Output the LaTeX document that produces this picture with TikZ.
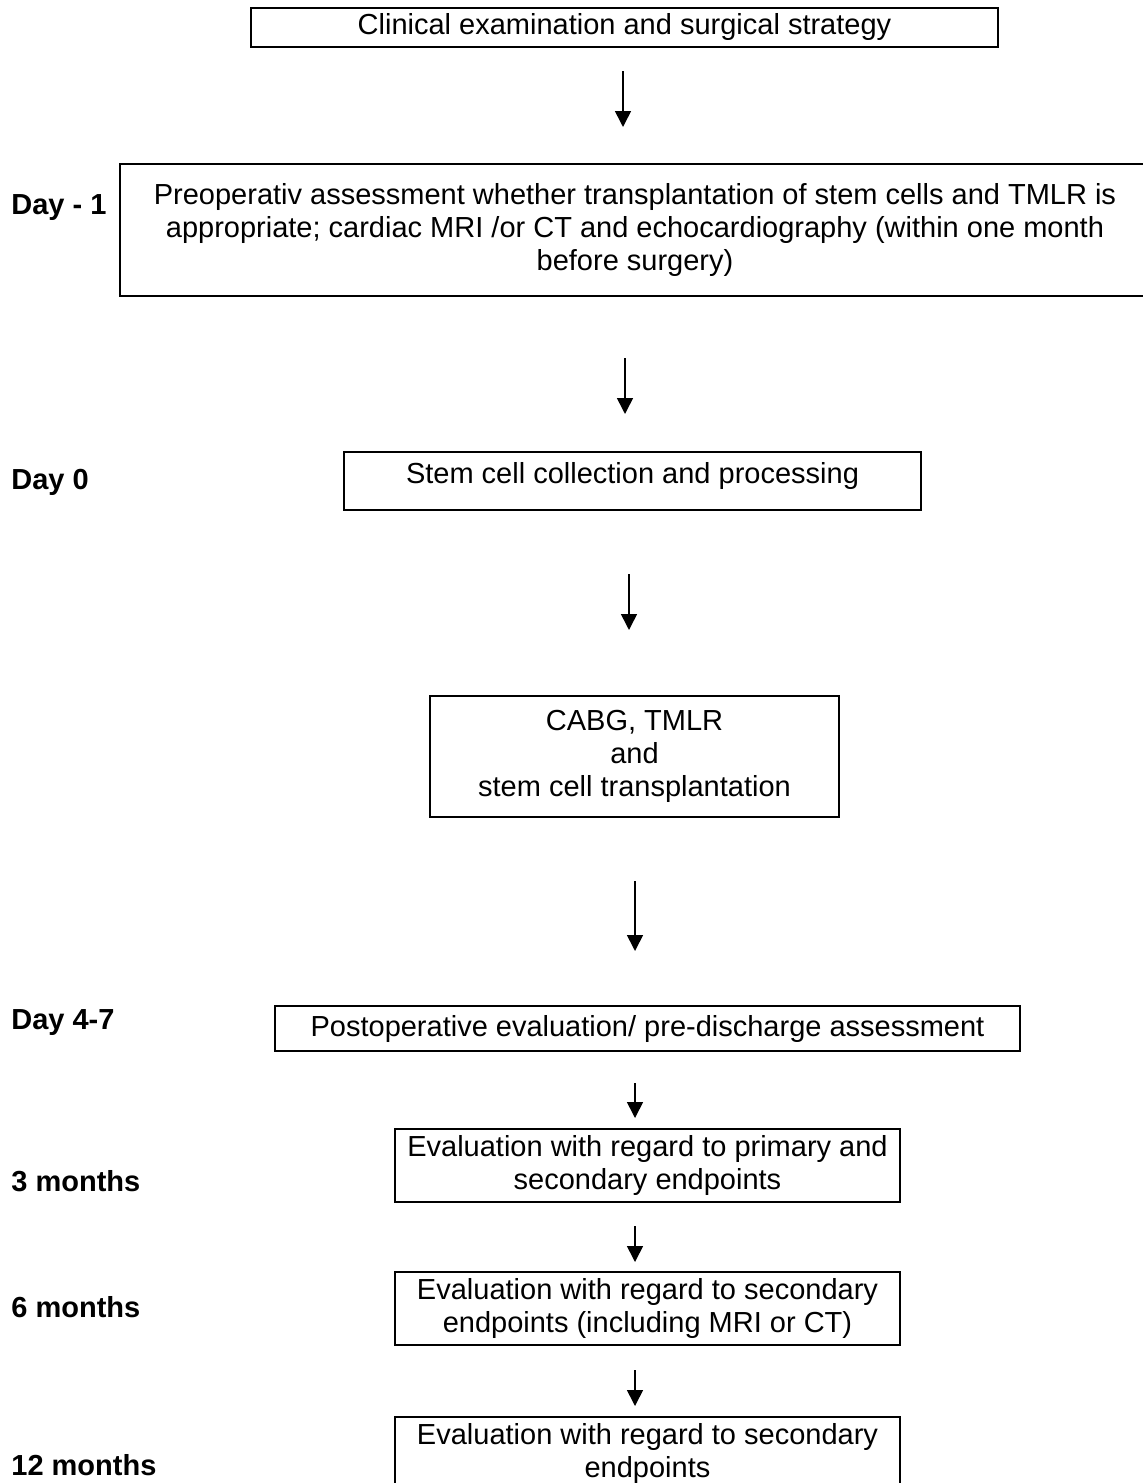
\documentclass[tikz,border=0pt]{standalone}
\usepackage{fontspec}
\setmainfont{Liberation Sans}
\usetikzlibrary{arrows.meta,calc}
\tikzset{
  phase/.style={draw=black, line width=1pt, inner sep=0pt, align=center,
    font=\fontsize{14.5}{16.5}\selectfont},
  period/.style={anchor=west, inner sep=0pt, font=\fontsize{14.5}{16.5}\selectfont\bfseries},
  flow/.style={draw=black, line width=0.8pt, -{Triangle[length=8pt,width=8pt]}},
}

\begin{document}
\begin{tikzpicture}[x=0.5pt, y=-0.5pt]
\useasboundingbox (0,0) rectangle (1142,1483);
% Steps of the study
\node[phase, minimum width=373.5pt, minimum height=19.5pt] (exam) at (624.5,27.5)
  {Clinical examination and surgical strategy};
\node[phase, minimum width=515pt, minimum height=66pt] (preop) at (635,230)
  {Preoperativ assessment whether transplantation of stem cells and TMLR is\\
   appropriate; cardiac MRI /or CT and echocardiography (within one month\\
   before surgery)};
\node[phase, minimum width=288.5pt, minimum height=29pt, text height=15.5pt, text depth=13.5pt]
  (collect) at (632.5,481) {Stem cell collection and processing};
\node[phase, minimum width=204.5pt, minimum height=60.5pt] (cabg) at (634.5,756.5)
  {CABG, TMLR\\ and\\ stem cell transplantation};
\node[phase, minimum width=372.5pt, minimum height=22.5pt] (postop) at (647.5,1028.5)
  {Postoperative evaluation/ pre-discharge assessment};
\node[phase, minimum width=252.5pt, minimum height=36.5pt] (eval3) at (647.5,1165.5)
  {Evaluation with regard to primary and\\ secondary endpoints};
\node[phase, minimum width=252.5pt, minimum height=36.5pt] (eval6) at (647.5,1308.5)
  {Evaluation with regard to secondary\\ endpoints (including MRI or CT)};
\node[phase, minimum width=252.5pt, minimum height=36pt] (eval12) at (647.5,1453)
  {Evaluation with regard to secondary\\ endpoints};
% Time points
\node[period] (dminus) at (11,208) {Day - 1};
\node[period] (dzero) at (11,482) {Day 0};
\node[period] (dfour) at (11,1023) {Day 4-7};
\node[period] (mthree) at (11,1181) {3 months};
\node[period] (msix) at (11,1307) {6 months};
\node[period] (mtwelve) at (11,1465) {12 months};
% Arrows between the steps
\draw[flow] ($(exam.south)+(-1.5,23)$) -- ($(preop.north)+(-12,-36)$);
\draw[flow] ($(preop.south)+(-10,61)$) -- ($(collect.north)+(-7.5,-37)$);
\draw[flow] ($(collect.south)+(-3.5,63)$) -- ($(cabg.north)+(-5.5,-65)$);
\draw[flow] ($(cabg.south)+(0.5,63)$) -- ($(postop.north)+(-12.5,-54)$);
\draw[flow] ($(postop.south)+(-12.5,31)$) -- ($(eval3.north)+(-12.5,-10)$);
\draw[flow] ($(eval3.south)+(-12.5,23)$) -- ($(eval6.north)+(-12.5,-9)$);
\draw[flow] ($(eval6.south)+(-12.5,24)$) -- ($(eval12.north)+(-12.5,-10)$);
\end{tikzpicture}
\end{document}
